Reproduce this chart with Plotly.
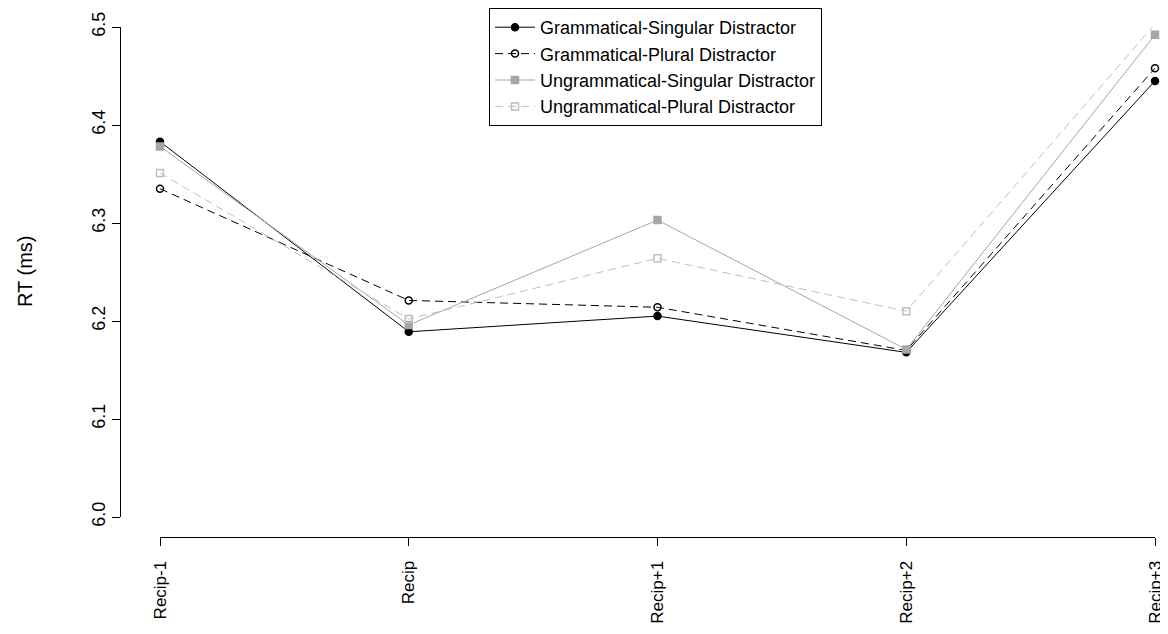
import plotly.graph_objects as go

categories = ["Recip-1", "Recip", "Recip+1", "Recip+2", "Recip+3"]
gram_sing = [6.383, 6.189, 6.205, 6.168, 6.445]
gram_plur = [6.335, 6.221, 6.214, 6.170, 6.458]
ungram_sing = [6.378, 6.196, 6.303, 6.171, 6.492]
ungram_plur = [6.351, 6.202, 6.264, 6.210, 6.503]
y_ticks = [6.0, 6.1, 6.2, 6.3, 6.4, 6.5]

FONT = "Liberation Sans, Arial, sans-serif"
OFF = 8  # default page body margin
W, H = 1168 - OFF, 634 - OFF
ml, mr, mt, mb = 120 - OFF, 13, 0, 634 - 537
pw = W - ml - mr
ph = H - mt - mb
xdom0 = 40 / pw
ydom0 = 20 / ph
ydom1 = (ph - (27 - OFF - mt)) / ph

series = [
    ("Grammatical-Singular Distractor", gram_sing, "black", "solid", "circle"),
    ("Grammatical-Plural Distractor", gram_plur, "black", "8px,5px", "circle-open"),
    ("Ungrammatical-Singular Distractor", ungram_sing, "#a6a6a6", "solid", "square"),
    ("Ungrammatical-Plural Distractor", ungram_plur, "#bfbfbf", "8px,5px", "square-open"),
]

fig = go.Figure()
x_idx = list(range(len(categories)))
for name, vals, col, dash, sym in series:
    fig.add_trace(go.Scatter(
        x=x_idx, y=vals, name=name, mode="lines+markers",
        line=dict(color=col, width=1, dash=dash),
        marker=dict(symbol=sym, size=7, color=col, line=dict(color=col, width=1.5)),
        cliponaxis=False,
    ))

fig.update_layout(
    width=W, height=H,
    margin=dict(l=ml, r=mr, t=mt, b=mb, autoexpand=False),
    plot_bgcolor="white", paper_bgcolor="white",
    font=dict(family=FONT, color="black"),
    xaxis=dict(
        domain=[xdom0, 1], range=[0, 4], anchor="free", position=0,
        tickmode="array", tickvals=x_idx, ticktext=categories, tickangle=-90,
        showline=True, linecolor="black", linewidth=1, automargin=False,
        ticks="outside", ticklen=8, tickcolor="black", tickwidth=1,
        ticklabelstandoff=8,
        showgrid=False, zeroline=False, tickfont=dict(size=17, family=FONT),
    ),
    yaxis=dict(
        domain=[ydom0, ydom1], range=[6.0, 6.5], anchor="free", position=0,
        tickmode="array", tickvals=y_ticks, ticktext=[f"{v:.1f}" for v in y_ticks],
        tickangle=-90,
        showline=True, linecolor="black", linewidth=1, automargin=False,
        ticks="outside", ticklen=8, tickcolor="black", tickwidth=1,
        ticklabelstandoff=0,
        showgrid=False, zeroline=False, tickfont=dict(size=18, family=FONT),
    ),
    legend=dict(
        x=(489 - OFF - ml) / pw, y=1, xanchor="left", yanchor="top",
        bordercolor="black", borderwidth=1, bgcolor="white",
        font=dict(size=18, family=FONT), tracegroupgap=0, itemwidth=40,
    ),
    annotations=[dict(
        text="RT (ms)", xref="paper", yref="paper",
        x=(25 - OFF - ml) / pw, y=(ydom0 + ydom1) / 2, xanchor="center", yanchor="middle",
        textangle=-90, showarrow=False, font=dict(size=20, family=FONT),
    )],
)

fig.write_html("out.html")
